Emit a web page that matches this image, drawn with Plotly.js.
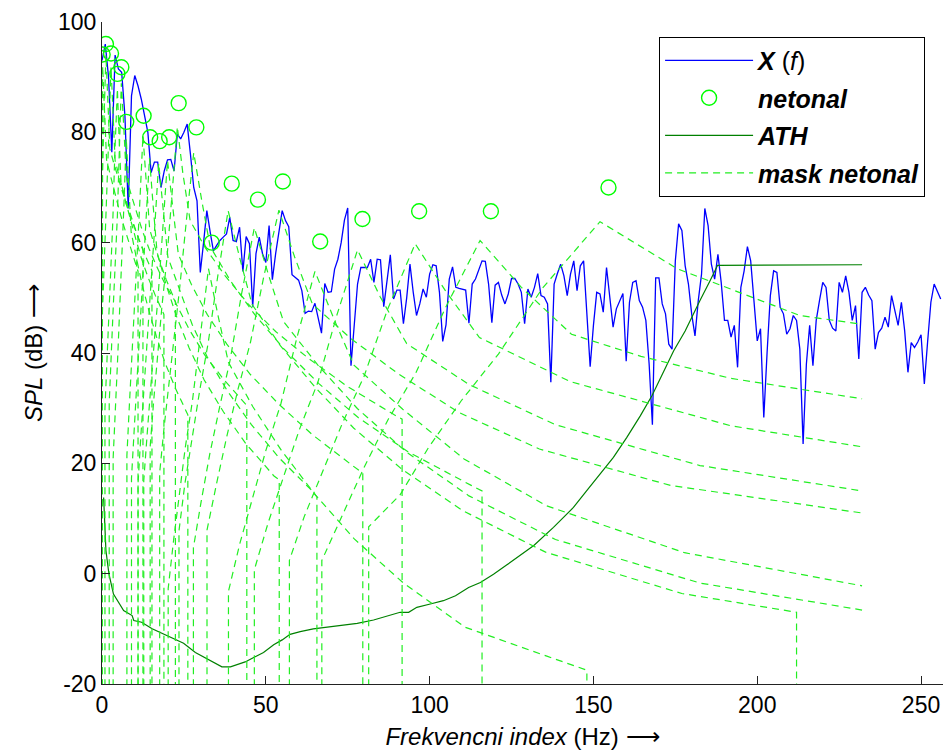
<!DOCTYPE html>
<html><head><meta charset="utf-8">
<script src="https://cdn.plot.ly/plotly-3.0.1.min.js"></script>
<style>html,body{margin:0;padding:0;background:#fff}#chart{width:944px;height:753px}</style>
</head><body><div id="chart"></div>
<script>
// X(f) spectrum, one value per frequency index 0..256
const spectrumY = [93,96,90,76.4,94,91.5,90.9,83,66.2,86.6,90.3,88.4,86,83,80,72.7,74.6,74.6,70,73,75,75.1,73,79.7,78.8,80,81.5,76,70,67.6,
54.6,60,65.8,62,58.5,59.5,60.4,61,61.6,64.6,60.4,60.2,62.8,54.8,61.1,59.8,48.4,58,61,58,56.4,63.1,53.3,58,62,65.8,64,62.9,54.2,53.7,
53.2,51.3,47.2,47.6,47.5,49,46,43.6,52.6,51,51.1,55.2,57,60,64.1,66.3,37.7,45,52.5,55.5,55.5,55.5,57,52.8,57,56.9,48.4,53,57.8,49.8,
51.4,51.4,45.3,50,56.1,51,46.8,48.9,51.6,50.1,54.3,56,55.8,51,42.1,45.1,53.4,55.6,51.9,51.7,51.6,51.4,45.4,52.5,53.4,55,56.7,56.6,52.5,45.5,
52.3,52.8,50.5,48.9,50.7,53.5,53.5,52.5,51,45.3,51.6,50.1,51.9,54.4,50.4,50.1,48.9,34.7,52.5,54.4,56.1,54,50.4,54.3,56.7,51.3,55.8,56.7,48,37.5,
45,51,50.7,47.4,55.5,50,44.7,48,49.5,50.8,38.5,49.2,52.8,53.1,49.5,48.3,45.9,38,27,53.6,53.6,48.9,47.1,41.6,40.7,56.7,63.4,62.2,55.8,52.5,
47,43.1,49.5,54.3,66.2,63.1,56.1,53.4,57.9,52.8,45.9,45.9,42.9,45,37.4,51.9,54.9,59.3,56.7,49.5,42.2,44.4,28.3,40,50.4,54.9,54.6,48.3,47.1,43.4,
44.4,46.8,45.9,40.7,23.5,38,45,37.7,45.9,49.5,52.8,51.9,45.9,44.5,44,52.8,51,54,51,45.9,48.6,38.9,51,51.9,50.5,49.5,40.7,43.7,44.5,46.5,
44.7,50.4,47.7,45,49.2,44,36.5,41.9,41,42,43.3,34.4,42,49.2,52.5,51,49.8];
const binIndex = spectrumY.map((v, i) => i);

// non-tonal maskers (circles)
const maskerX = [0.2,1.2,2.75,4.7,5.9,7.4,12.7,14.7,17.6,20.5,23.4,28.8,33.5,39.6,47.6,55.2,66.6,79.5,96.8,118.7,154.6];
const maskerY = [94.1,96.0,94.3,90.6,91.8,81.9,83.0,79.1,78.4,79.1,85.3,80.9,60.0,70.7,67.8,71.1,60.2,64.3,65.7,65.7,70.0];

// absolute threshold of hearing
const athX = [0.5,1.2,2.1,3.5,6.6,9.2,9.7,12.1,15.3,18.4,21.8,24.9,28.5,32.1,35.1,36.6,39.2,41.1,43.7,46.3,49.3,52.4,55.0,57.4,60.5,64.5,68.7,72.7,77.9,82.9,88.0,91.0,93.6,96.1,100.2,104.2,107.9,111.9,115.5,119.5,123.6,127.6,131.8,137.8,143.9,147.9,152.1,156.1,160.2,164.3,167.9,171.4,174.5,178.0,180.5,182.6,185.6,187.9,232];
const athY = [13.8,4.2,0,-3.7,-6.7,-7.6,-8.5,-8.8,-10.0,-10.8,-11.8,-12.6,-14.3,-15.5,-16.5,-16.9,-16.9,-16.5,-16.0,-15.2,-14.3,-12.9,-12.0,-11.0,-10.5,-10.0,-9.7,-9.4,-9.0,-8.4,-7.6,-7.0,-7.0,-6.1,-5.5,-4.9,-4.0,-2.5,-1.6,-0.1,1.6,3.3,5.1,8.4,12.0,15.0,18.1,21.1,24.7,28.6,32.3,36.5,40.4,44.0,47.1,49.6,53.1,55.9,56.0];

// masking thresholds of the non-tonal maskers
const mask01X = [0,0,0.2,0.8,1.4,2.6,3.8,5.1,6.4,7.9,9.4,11.0,11.0];
const mask01Y = [-40,88,92,83.5,75,72.1,69.2,66.3,63.5,60.6,57.7,54.8,-40];
const mask02X = [0,0,0.6,1.2,1.8,2.4,3.6,4.9,6.2,7.6,9.1,10.7,12.5,12.5];
const mask02Y = [-40,70,82,94,85.5,77,74.4,71.8,69.2,66.6,64,61.4,58.8,-40];
const mask03X = [0,0,0.35,1.5,2.1,2.75,3.35,4.0,5.25,6.5,8.05,9.55,11.2,13.1,15.25,15.25];
const mask03Y = [-40,45.8,50.9,67.9,79.9,91.9,83.4,74.9,72,69.2,66.3,63.5,60.6,57.8,54.9,-40];
const mask04X = [0.9,0.9,2.1,3.3,3.9,4.7,5.2,5.8,7.2,8.7,10.3,12.0,14.0,16.3,18.9,18.9];
const mask04Y = [-40,29.9,46.9,63.9,75.9,87.9,79.4,70.9,67.5,64.1,60.7,57.2,53.8,50.4,47,-40];
const mask05X = [2.2,2.2,3.4,4.7,5.3,5.9,6.7,7.4,8.9,10.5,12.3,14.3,16.6,19.25,22.4,22.4];
const mask05Y = [-40,30.9,47.9,64.9,76.9,88.9,80.4,71.9,68.7,65.5,62.2,59,55.8,52.5,49.3,-40];
const mask06X = [3.4,3.4,4.7,6.0,6.7,7.4,8.1,8.9,10.5,12.25,14.3,16.6,19.2,22.4,26.2,26.2];
const mask06Y = [-40,20.9,37.9,54.9,66.9,78.9,70.4,61.9,57.2,52.4,47.7,43,38.3,33.6,28.8,-40];
const mask07X = [7.6,7.6,8.3,9.05,9.85,10.7,11.55,12.5,13.5,14.55,16.9,19.6,22.8,26.7,31.4,37.3,44.2,44.2];
const mask07Y = [-40,21.4,29.9,38.4,46.9,55.4,67.4,79.4,70.9,62.4,57.8,53.3,48.7,44.2,39.6,35.1,30.5,-40];
const mask08X = [9,9,9.8,10.6,11.5,12.4,13.4,14.5,15.6,16.8,19.5,22.7,26.6,31.2,37.1,44,52.5,54.1,54.1];
const mask08Y = [-40,17.3,25.8,34.3,42.8,51.3,63.3,75.3,66.8,58.3,52.5,46.7,40.9,35.1,29.3,23.5,17.7,17,-40];
const mask09X = [11,11,11.85,12.8,13.8,14.9,16.05,17.3,18.65,20.1,23.8,27.5,32.2,38.3,45.6,54.2,64.5,65.6,65.6];
const mask09Y = [-40,16.4,24.9,33.4,41.9,50.4,62.4,74.4,65.9,57.4,51.3,45.2,39.2,33.1,27.0,20.9,14.8,13.9,-40];
const mask10X = [12.75,12.75,13.8,14.85,16,17.2,18.6,20,21.6,23.3,27.3,32.1,38.1,45.3,54,64.2,76,79.6,79.6];
const mask10Y = [-40,16.9,25.4,33.9,42.4,50.9,62.9,74.9,66.4,57.9,52.4,47.0,41.6,36.1,30.7,25.2,19.8,18.2,-40];
const mask11X = [14.7,14.7,15.8,17,18.3,19.8,21.3,23,24.7,26.9,31.6,37.6,44.6,53,63.3,75,89.2,91.6,91.6];
const mask11Y = [-40,23,31.5,40,48.5,57,69,81,72.5,64,59,54,48.9,43.9,38.9,33.9,28.8,28,-40];
const mask12X = [17.6,17.6,19,20.6,22.3,23.8,25.8,28,30.4,33,39.2,46.7,55.6,66.1,78.2,93.4,112.7,116,116];
const mask12Y = [-40,18.3,26.8,35.3,43.8,52.3,64.3,76.3,67.8,59.3,53.1,46.9,40.7,34.5,28.3,22.1,16,15,-40];
const mask13X = [20.2,20.2,21.8,23.6,25.4,27.6,30,32.5,35.4,38.6,46,54.8,65.1,77,92,110.8,136,148,148];
const mask13Y = [-40,-2.7,5.8,14.3,22.8,31.3,43.3,55.3,46.8,38.3,30.3,22.3,14.3,6.3,-1.7,-9.7,-15,-17.5,-40];
const mask14X = [23.5,23.5,25.3,27.5,29.85,32.4,35.3,38.5,42,45.8,54.5,64.9,76.8,91.6,110.2,135.4,177,212,212];
const mask14Y = [-40,7.8,16.3,24.8,33.3,41.8,53.8,65.8,57.3,48.8,41.3,33.9,26.4,18.9,11.4,3.9,-3.6,-7,-40];
const mask15X = [27.9,27.9,30.3,32.9,35.9,39.1,42.6,46.5,50.8,55.4,65.9,78,93,112,138.4,182.5,232];
const mask15Y = [-40,4.7,13.2,21.7,30.2,38.7,50.7,62.7,54.2,45.7,37.8,29.9,22,14.1,6.2,-1.7,-6.6];
const mask16X = [32.05,32.05,35,38.1,41.5,45.3,49.4,54,58.8,64.2,76,90.5,109,133.5,173.5,232];
const mask16Y = [-40,7.9,16.4,24.9,33.4,41.9,53.9,65.9,57.4,48.9,42.6,36.2,29.2,22.6,16,11];
const mask17X = [38.6,38.6,42,45.9,50,54.6,59.5,65,70.7,76.9,91.8,110.5,135.7,177.8,232];
const mask17Y = [-40,-3.2,5.3,13.8,22.3,30.8,42.8,54.8,46.3,37.8,29.8,20.8,12.3,3.8,-2.2];
const mask18X = [46.5,46.5,50.7,55.4,60.3,65.9,71.6,78,84.9,93,112,138.4,182.5,232];
const mask18Y = [-40,0.7,9.2,17.7,26.2,34.7,46.7,58.7,50.2,41.7,34.3,27,19.6,15];
const mask19X = [57.2,57.2,61.7,67.6,73.4,80,87.1,95.6,104.8,115.2,143,192,232];
const mask19Y = [-40,2.4,10.3,18.8,27.3,35.8,47.8,59.8,51.3,42.8,34.8,26.8,23];
const mask20X = [67.1,67.1,73.6,80.1,87.3,95.8,105,115.4,128,143.3,164.5,192,232];
const mask20Y = [-40,2.4,10.9,19.4,27.9,36.4,48.4,60.4,51.9,43.4,39.4,35.4,31.7];
const mask21X = [81.4,81.4,91,99.6,109.6,121,134.5,152,175.5,213,232];
const mask21Y = [-40,8.5,14.3,22.8,31.3,39.8,51.8,63.8,55.3,46.8,45.2];

const xTicks = [0,50,100,150,200,250];
const yTicks = [-20,0,20,40,60,80,100];

const maskXs = [mask01X,mask02X,mask03X,mask04X,mask05X,mask06X,mask07X,mask08X,mask09X,mask10X,mask11X,mask12X,mask13X,mask14X,mask15X,mask16X,mask17X,mask18X,mask19X,mask20X,mask21X];
const maskYs = [mask01Y,mask02Y,mask03Y,mask04Y,mask05Y,mask06Y,mask07Y,mask08Y,mask09Y,mask10Y,mask11Y,mask12Y,mask13Y,mask14Y,mask15Y,mask16Y,mask17Y,mask18Y,mask19Y,mask20Y,mask21Y];

const FONT = 'Liberation Sans, Arial, Helvetica, sans-serif';
const traces = [
  {x: binIndex, y: spectrumY, type: 'scatter', mode: 'lines', name: '<b><i>X</i></b> (<i>f</i>)',
   legendgroup: 'a', line: {color: '#0000ff', width: 1.3}},
  {x: maskerX, y: maskerY, type: 'scatter', mode: 'markers', name: '<b><i>netonal</i></b>',
   legendgroup: 'b', marker: {symbol: 'circle-open', size: 15, color: '#00ff00', line: {width: 1.4, color: '#00ff00'}}},
  {x: athX, y: athY, type: 'scatter', mode: 'lines', name: '<b><i>ATH</i></b>',
   legendgroup: 'c', line: {color: '#008000', width: 1.2}}
];
maskXs.forEach((mx, k) => {
  traces.push({x: mx, y: maskYs[k], type: 'scatter', mode: 'lines', name: '<b><i>mask netonal</i></b>',
    legendgroup: 'd', showlegend: k === 0, line: {color: '#22ee22', width: 1.2, dash: '7px,5px'}});
});

const axisCommon = {
  showgrid: false, zeroline: false, showline: true, linecolor: '#222', linewidth: 1,
  ticks: 'inside', ticklen: 8, tickwidth: 1, tickcolor: '#222',
  tickfont: {family: FONT, size: 23, color: '#000'}
};
const layout = {
  width: 944, height: 753,
  margin: {l: 102, r: 1, t: 22, b: 69, pad: 0},
  paper_bgcolor: '#fff', plot_bgcolor: '#fff',
  font: {family: FONT, size: 23, color: '#000'},
  showlegend: true,
  legend: {x: 0.6624, y: 0.978, xanchor: 'left', yanchor: 'top', bgcolor: '#fff',
    bordercolor: '#000', borderwidth: 1, font: {family: FONT, size: 25, color: '#000'},
    tracegroupgap: 2, itemwidth: 88},
  xaxis: Object.assign({}, axisCommon, {range: [0, 256.7], tickvals: xTicks, ticktext: xTicks.map(String),
    title: {text: '<i>Frekvencni index</i> (Hz) \u27F6', font: {family: FONT, size: 24}, standoff: 11}}),
  yaxis: Object.assign({}, axisCommon, {range: [-20, 100], tickvals: yTicks, ticktext: yTicks.map(String),
    title: {text: '<i>SPL</i> (dB) \u27F6', font: {family: FONT, size: 24}, standoff: 8}})
};
Plotly.newPlot('chart', traces, layout, {displayModeBar: false, staticPlot: true});
</script></body></html>
